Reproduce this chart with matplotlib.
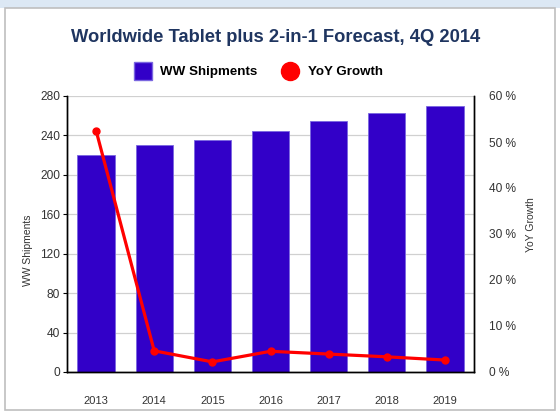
import matplotlib
matplotlib.use('Agg')
import matplotlib.pyplot as plt
from matplotlib.patches import Rectangle
from matplotlib.lines import Line2D

years = ['2013', '2014', '2015', '2016', '2017', '2018', '2019']
shipments = [220, 230, 235, 245, 255, 263, 270]
yoy_growth = [52.5, 4.6, 2.2, 4.5, 3.9, 3.3, 2.6]

plt.rcParams['font.family'] = ['Liberation Sans', 'DejaVu Sans']

W, H = 560, 416
fig = plt.figure(figsize=(W / 100, H / 100), dpi=100)
fig.patch.set_facecolor('white')

# frame around the chart
fig.patches.append(Rectangle((0, 1 - 8 / H), 1, 8 / H, transform=fig.transFigure,
                             facecolor='#DCE8F4', edgecolor='none', zorder=-2))
fig.patches.append(Rectangle((5 / W, 1 - 410 / H), 550 / W, 402 / H, transform=fig.transFigure,
                             facecolor='none', edgecolor='#BFBFBF', linewidth=1.2, zorder=-1))

ax = fig.add_axes([67 / W, 1 - 372 / H, 407 / W, 276 / H])
ax2 = ax.twinx()

x = range(len(years))
ax.bar(x, shipments, width=0.64, color='#3200C8', edgecolor='#7A66E0', linewidth=0.6, zorder=2)
ax.set_ylim(0, 280)
ax.set_xlim(-0.5, len(years) - 0.5)
ax.set_yticks(range(0, 281, 40))
ax.yaxis.grid(True, color='#D0D0D0', linewidth=0.9)
ax.set_axisbelow(True)
ax.set_xticks(list(x))
ax.set_xticklabels(years)
ax.tick_params(axis='x', length=0, pad=17, labelsize=8, colors='#333333')
ax.tick_params(axis='y', length=3, width=0.8, pad=2, labelsize=8.6, labelcolor='#333333',
               color='black', direction='out')

ax2.plot(list(x), yoy_growth, color='#FF0000', linewidth=2.3, marker='o', markersize=5,
         zorder=3)
ax2.set_ylim(0, 60)
ax2.set_yticks(range(0, 61, 10))
ax2.set_yticklabels([f'{v} %' for v in range(0, 61, 10)])
ax2.tick_params(axis='y', length=0, pad=11, labelsize=8.6, colors='#333333')

for a in (ax, ax2):
    a.spines['top'].set_visible(False)
    for s in ('left', 'right', 'bottom'):
        a.spines[s].set_color('black')
        a.spines[s].set_linewidth(1.0)
ax.set_facecolor('white')

fig.text(28 / W, 1 - 250 / H, 'WW Shipments', rotation=90, ha='center', va='center',
         fontsize=7.5, color='#333333')
fig.text(531 / W, 1 - 225 / H, 'YoY Growth', rotation=90, ha='center', va='center',
         fontsize=7.5, color='#333333')

fig.text(276 / W, 1 - 38 / H, 'Worldwide Tablet plus 2-in-1 Forecast, 4Q 2014',
         ha='center', va='center', fontsize=13.2, fontweight='bold', color='#1F3560')

handles = [
    Line2D([], [], marker='s', linestyle='none', markersize=13, color='#3200C8',
           markeredgecolor='#7A66E0', label='WW Shipments'),
    Line2D([], [], marker='o', linestyle='none', markersize=13, color='#FF0000',
           label='YoY Growth'),
]
fig.legend(handles=handles, loc='center', bbox_to_anchor=(256 / W, 1 - 72 / H), ncol=2,
           frameon=False, prop={'weight': 'bold', 'size': 9.6},
           handletextpad=0.3, columnspacing=1.5)

fig.savefig('out.png', dpi=100)
